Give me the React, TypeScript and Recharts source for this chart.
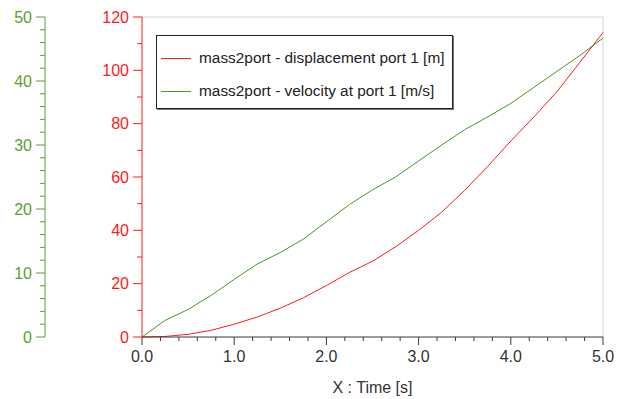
import { LineChart, Line, XAxis, YAxis, ReferenceLine } from 'recharts'

document.body.style.margin = '0'

const time = [0, 0.25, 0.5, 0.75, 1, 1.25, 1.5, 1.75, 2, 2.25, 2.5, 2.75, 3, 3.25, 3.5, 3.75, 4, 4.25, 4.5, 4.75, 5]
const displacement = [0, 0.2, 1.0, 2.5, 4.8, 7.5, 10.8, 14.7, 19.3, 24.2, 28.4, 33.8, 40.0, 46.8, 55.0, 64.0, 73.5, 82.5, 92.0, 103.0, 114.2]
const velocity = [0, 2.6, 4.3, 6.5, 9.0, 11.4, 13.2, 15.3, 18.0, 20.7, 23.0, 25.0, 27.5, 30.0, 32.4, 34.4, 36.5, 39.0, 41.5, 44.0, 46.7]

const xTicks = Array.from({ length: 26 }, (_, i) => Math.round(i * 2) / 10)
const dispTicks = [0, 10, 20, 30, 40, 50, 60, 70, 80, 90, 100, 110, 120]
const velTicks = [0, 2, 4, 6, 8, 10, 12, 14, 16, 18, 20, 22, 24, 26, 28, 30, 32, 34, 36, 38, 40, 42, 44, 46, 48, 50]

const RED = '#ff1a1a'
const GREEN = '#5e9e2c'
const GREEN_LINE = '#4b971f'
const FONT = '"Liberation Sans", Arial, sans-serif'

const rows = time.map((t, i) => ({ t, d: displacement[i], v: velocity[i] }))

function YTick(props: any) {
  const { x, y, payload, color, major } = props
  const isMajor = payload.value % major === 0
  const len = isMajor ? 9 : 5
  return (
    <g>
      <line x1={x - len} y1={y} x2={x} y2={y} stroke={color} strokeWidth={1} />
      {isMajor && (
        <text x={x - 13} y={y} textAnchor="end" dominantBaseline="central" fill={color} fontSize={16} fontFamily={FONT}>
          {payload.value}
        </text>
      )}
    </g>
  )
}

function XTick(props: any) {
  const { x, y, payload } = props
  const isMajor = Math.abs(payload.value - Math.round(payload.value)) < 1e-6
  const len = isMajor ? 8 : 4
  return (
    <g>
      <line x1={x} y1={y} x2={x} y2={y + len} stroke="#3a3a3a" strokeWidth={1} />
      {isMajor && (
        <text x={x} y={y + 19} textAnchor="middle" dominantBaseline="central" fill="#333" fontSize={16} fontFamily={FONT}>
          {payload.value.toFixed(1)}
        </text>
      )}
    </g>
  )
}

export default function App() {
  return (
    <div style={{ position: 'relative', width: 627, height: 399, background: '#fff' }}>
      <LineChart width={627} height={399} data={rows} margin={{ top: 17, right: 24, left: 5, bottom: 12 }}>
        <XAxis
          dataKey="t"
          type="number"
          domain={[0, 5]}
          ticks={xTicks}
          interval={0}
          height={50}
          tickSize={0}
          tickMargin={0}
          tickLine={false}
          stroke="#3a3a3a"
          tick={<XTick />}
          label={{ value: 'X : Time [s]', position: 'insideBottom', offset: -6, fill: '#333', fontSize: 16, fontFamily: FONT }}
        />
        <YAxis
          yAxisId="d"
          orientation="left"
          width={97}
          domain={[0, 120]}
          ticks={dispTicks}
          interval={0}
          tickSize={0}
          tickMargin={0}
          tickLine={false}
          stroke={RED}
          tick={<YTick color={RED} major={20} />}
        />
        <YAxis
          yAxisId="v"
          orientation="left"
          width={40}
          domain={[0, 50]}
          ticks={velTicks}
          interval={0}
          tickSize={0}
          tickMargin={0}
          tickLine={false}
          stroke={GREEN}
          tick={<YTick color={GREEN} major={10} />}
        />
        <ReferenceLine yAxisId="d" y={120} stroke="#d4d4d4" />
        <ReferenceLine yAxisId="d" x={5} stroke="#d4d4d4" />
        <Line yAxisId="d" type="linear" dataKey="d" stroke={RED} strokeWidth={1} dot={false} isAnimationActive={false} />
        <Line yAxisId="v" type="linear" dataKey="v" stroke={GREEN_LINE} strokeWidth={1} dot={false} isAnimationActive={false} />
      </LineChart>
      <div
        style={{
          position: 'absolute', left: 156, top: 35, width: 295, height: 72,
          border: '1px solid #222', boxShadow: '1px 1px 0 #777', background: '#fff',
          fontFamily: FONT, fontSize: 15.4, color: '#222',
        }}
      >
        {[
          { name: 'mass2port - displacement port 1 [m]', color: RED, top: 22 },
          { name: 'mass2port - velocity at port 1 [m/s]', color: GREEN_LINE, top: 55 },
        ].map(item => (
          <div key={item.name} style={{ position: 'absolute', left: 4, top: item.top - 10, height: 20, display: 'flex', alignItems: 'center', whiteSpace: 'nowrap' }}>
            <span style={{ display: 'inline-block', width: 30, height: 1, background: item.color, marginRight: 8 }} />
            <span>{item.name}</span>
          </div>
        ))}
      </div>
    </div>
  )
}
